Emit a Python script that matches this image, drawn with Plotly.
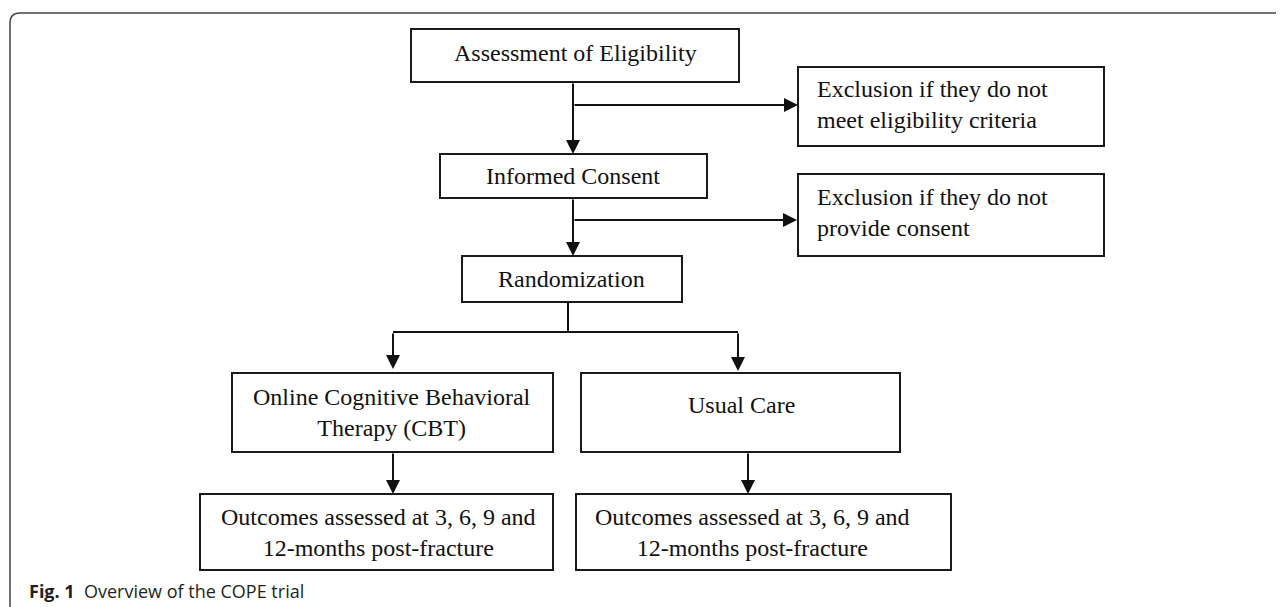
import plotly.graph_objects as go

# ---- content (texts) ----
box_labels = [
    "Assessment of Eligibility",
    "Informed Consent",
    "Randomization",
    "Exclusion if they do not<br>meet eligibility criteria",
    "Exclusion if they do not<br>provide consent",
    "Online Cognitive Behavioral<br>Therapy (CBT)",
    "Usual Care",
    "Outcomes assessed at 3, 6, 9 and<br>12-months post-fracture",
    "Outcomes assessed at 3, 6, 9 and<br>12-months post-fracture",
]
caption_bold = "Fig. 1"
caption_text = "Overview of the COPE trial"

# ---- layout geometry (pixels, y downward) ----
box_rects = [  # x0, y0, x1, y1
    (411, 29, 739, 82),
    (440, 154, 707, 198),
    (462, 256, 682, 302),
    (798, 67, 1104, 146),
    (798, 174, 1104, 256),
    (232, 373, 553, 452),
    (581, 373, 900, 452),
    (200, 494, 553, 570),
    (576, 494, 951, 570),
]
text_pos = [  # x, y, anchor
    (575, 53, "center"),
    (573, 176, "center"),
    (571, 279, "center"),
    (815, 104, "left"),
    (815, 212, "left"),
    (392, 412, "center"),
    (741, 405, "center"),
    (378, 532, "center"),
    (752, 532, "center"),
]
plain_lines = [  # (x0, y0, x1, y1)
    (568, 302, 568, 332),
    (393, 332, 738, 332),
]
arrows = [  # tail x, tail y, head x, head y
    (573, 82, 573, 154),
    (573, 105, 798, 105),
    (573, 198, 573, 256),
    (573, 220, 797, 220),
    (393, 332, 393, 369),
    (738, 332, 738, 371),
    (393, 452, 393, 494),
    (748, 452, 748, 494),
]

W, H = 1284, 607
OFF = 8  # default page body margin
fig = go.Figure()
fig.add_trace(go.Scatter(x=[OFF, W], y=[OFF, H], mode="markers",
                         marker=dict(opacity=0), hoverinfo="skip", showlegend=False))

shapes = []
# outer frame (top and left edge with rounded corner)
shapes.append(dict(type="path", xref="x", yref="y",
                   path=f"M 10,{H+5} L 10,23 Q 10,13 20,13 L {W+5},13",
                   line=dict(color="#444444", width=1.5)))
for (x0, y0, x1, y1) in box_rects:
    shapes.append(dict(type="rect", xref="x", yref="y", x0=x0, y0=y0, x1=x1, y1=y1,
                       line=dict(color="#1a1a1a", width=2), fillcolor="rgba(0,0,0,0)"))
for (x0, y0, x1, y1) in plain_lines:
    shapes.append(dict(type="line", xref="x", yref="y", x0=x0, y0=y0, x1=x1, y1=y1,
                       line=dict(color="#111111", width=2)))

annotations = []
for (tx, ty, hx, hy) in arrows:
    annotations.append(dict(x=hx, y=hy, ax=tx, ay=ty, xref="x", yref="y",
                            axref="x", ayref="y", text="", showarrow=True,
                            arrowhead=2, arrowsize=1.4, arrowwidth=2, arrowcolor="#111111",
                            standoff=0, startstandoff=0))
for label, (x, y, anc) in zip(box_labels, text_pos):
    annotations.append(dict(x=x, y=y, xref="x", yref="y", text=label, showarrow=False,
                            xanchor=anc, yanchor="middle", align=anc,
                            font=dict(family="Liberation Serif", size=24, color="#111111")))
annotations.append(dict(x=27, y=591, xref="x", yref="y", showarrow=False,
                        xanchor="left", yanchor="middle", align="left",
                        text=f"<b>{caption_bold}</b>  {caption_text}",
                        font=dict(family="Open Sans", size=18, color="#231f20")))

fig.update_layout(
    width=W - OFF, height=H - OFF, margin=dict(l=0, r=0, t=0, b=0),
    paper_bgcolor="white", plot_bgcolor="white",
    xaxis=dict(range=[OFF, W], visible=False, fixedrange=True),
    yaxis=dict(range=[H, OFF], visible=False, fixedrange=True),
    shapes=shapes, annotations=annotations, showlegend=False,
)
fig.write_html("out.html")
